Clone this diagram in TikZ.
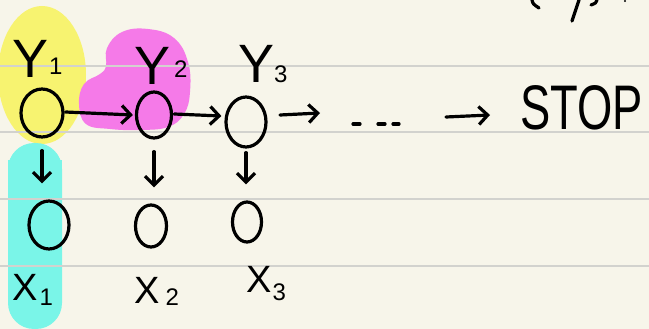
\documentclass[tikz,border=0pt]{standalone}
\usepackage{fontspec}
\setmainfont{Liberation Sans}
\usetikzlibrary{arrows.meta,shapes.geometric}
\definecolor{paper}{RGB}{247,245,234}
\definecolor{rule}{RGB}{210,210,206}
\definecolor{hlyellow}{RGB}{247,243,112}
\definecolor{hlpink}{RGB}{245,122,232}
\definecolor{hlcyan}{RGB}{122,245,232}
\tikzset{
  ink/.style={line width=3.2pt, black, line cap=round, line join=round},
  ring/.style={ellipse, draw, line width=3.2pt, inner sep=0pt},
  lab/.style={inner sep=0pt, anchor=base west, font=\fontsize{54}{54}\selectfont},
  xlab/.style={inner sep=0pt, anchor=base west, font=\fontsize{38}{38}\selectfont},
  arr/.style={ink, -{Straight Barb[length=9pt,width=18pt,line width=3.2pt]}},
  hline/.style={rule, line width=1.2pt}
}
\newcommand{\subnum}[2]{\raisebox{#1}{\fontsize{24}{24}\selectfont #2}}
\begin{document}
\begin{tikzpicture}[x=1pt,y=-1pt]
\useasboundingbox (0,0) rectangle (649,329);
\fill[paper] (0,0) rectangle (649,329);
% highlights
\fill[hlyellow] (42,75) ellipse [x radius=44, y radius=69];
\fill[hlcyan, rounded corners=26pt] (8,143) rectangle (62,329);
\fill[hlcyan] (8,160) rectangle (62,180);
\fill[hlpink] plot[smooth cycle, tension=0.7] coordinates {
  (107,48) (122,32) (148,29) (174,38) (188,62) (190,92) (184,114) (168,127)
  (140,130) (110,129) (86,124) (79,104) (84,84) (100,74) (106,66)};
% ruled lines
\foreach \yy in {66,132,199,266} \draw[hline] (0,\yy) -- (649,\yy);
% top-right fragment
\draw[ink] (532,0) .. controls (533,4) .. (539,8);
\draw[ink] (579,0) -- (572,21);
\draw[ink] (597,0) .. controls (596,3) .. (591,5);
\fill (625,1) circle (1.2pt);
% nodes
\node[ring, minimum width=42pt, minimum height=48pt] (y1) at (42,113) {};
\node[ring, minimum width=35pt, minimum height=46pt] (y2) at (154,115) {};
\node[ring, minimum width=40pt, minimum height=50pt] (y3) at (246,122) {};
\node[ring, minimum width=40pt, minimum height=48pt] (x1) at (49,225) {};
\node[ring, minimum width=31pt, minimum height=42pt] (x2) at (151,226) {};
\node[ring, minimum width=29pt, minimum height=40pt] (x3) at (247,222) {};
\coordinate (c1) at (280,115);
\coordinate (c2) at (320,113);
\coordinate (c3) at (446,117);
\coordinate (c4) at (490,115);
\node[inner sep=0pt, minimum width=46pt, minimum height=6pt] (dots) at (375,124) {};
\node[inner sep=0pt, anchor=base west, font=\fontsize{63}{63}\selectfont, xscale=0.72] (stop) at (520,130) {STOP};
% labels
\node[lab] (ly1) at (12,78) {Y\kern1pt\subnum{3pt}{1}};
\node[lab] (ly2) at (134,85) {Y\kern4pt\subnum{8pt}{2}};
\node[lab] (ly3) at (238,83) {Y\kern0pt\subnum{0pt}{3}};
\node[xlab] (lx1) at (12,300) {X\kern2pt\subnum{-5pt}{1}};
\node[xlab] (lx2) at (134,303) {X\kern6pt\subnum{-2pt}{2}};
\node[xlab] (lx3) at (246,292) {X\kern1pt\subnum{-8pt}{3}};
% connectors
\draw[arr] ([xshift=1pt,yshift=1pt]y1.east) -- ([xshift=-2pt]y2.west);
\draw[arr] ([xshift=1pt,yshift=1pt]y2.east) -- ([xshift=-3pt,yshift=6pt]y3.west);
\draw[arr] (c1) -- (c2);
\foreach \a/\b in {353/360,378/385,393/399} \draw[ink] (\a,124) -- (\b,124);
\draw[arr] (c3) -- (c4);
\draw[arr] ([yshift=-12pt]y1.south) -- ([yshift=16pt]y1.south |- x1.north);
\draw[arr] ([yshift=-12pt]y2.south) -- ([yshift=16pt]y2.south |- x2.north);
\draw[arr] ([yshift=-4pt]y3.south) -- ([yshift=16pt]y3.south |- x3.north);
\end{tikzpicture}
\end{document}
